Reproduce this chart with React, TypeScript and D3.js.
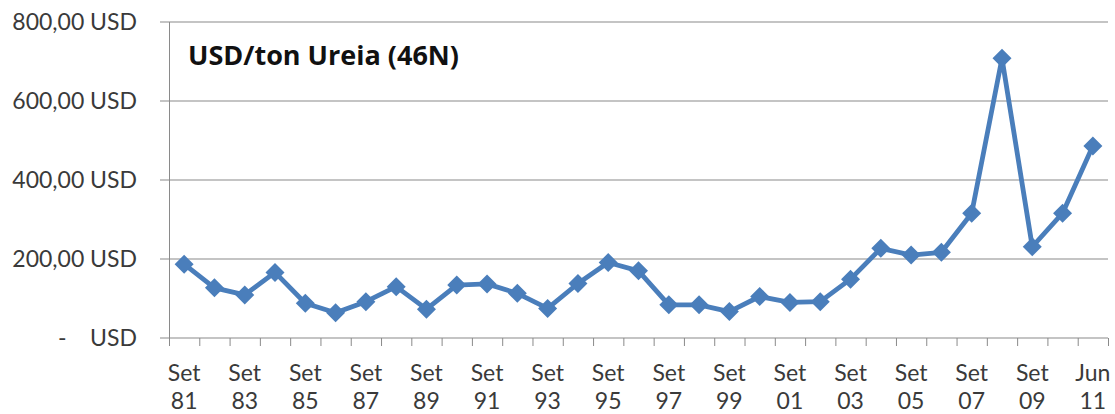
import { useEffect, useRef } from "react"
import * as d3 from "d3"

// categorias (mês/ano) e preço da ureia em USD/ton
const categories = [
  "Set 81", "Set 82", "Set 83", "Set 84", "Set 85", "Set 86", "Set 87", "Set 88",
  "Set 89", "Set 90", "Set 91", "Set 92", "Set 93", "Set 94", "Set 95", "Set 96",
  "Set 97", "Set 98", "Set 99", "Set 00", "Set 01", "Set 02", "Set 03", "Set 04",
  "Set 05", "Set 06", "Set 07", "Set 08", "Set 09", "Set 10", "Jun 11",
]
const prices = [
  187, 127, 109, 166, 88, 64, 92, 130, 73, 134, 137, 113, 75, 138, 191, 170,
  84, 84, 67, 105, 90, 92, 149, 227, 210, 217, 316, 708, 231, 316, 486,
]
const yTicks = [0, 200, 400, 600, 800]
const yTickLabels = ["-    USD", "200,00 USD", "400,00 USD", "600,00 USD", "800,00 USD"]
const title = "USD/ton Ureia (46N)"

export default function App() {
  const svgRef = useRef<SVGSVGElement>(null)

  useEffect(() => {
    document.body.style.margin = "0"
    if (!svgRef.current) return
    const svg = d3.select(svgRef.current)
    svg.selectAll("*").remove()

    const font = "Lato, 'Open Sans', sans-serif"
    const blue = "#4a7ebb"

    const x = d3.scaleBand<string>().domain(categories).range([169, 1108]).padding(0)
    const y = d3.scaleLinear().domain([0, 800]).range([338, 22])

    // grade horizontal
    svg.append("g")
      .selectAll("line")
      .data(yTicks)
      .enter().append("line")
      .attr("x1", 160).attr("x2", 1108)
      .attr("y1", d => y(d)).attr("y2", d => y(d))
      .attr("stroke", "#c4c4c4")
      .attr("stroke-width", 1.8)

    // eixo vertical
    svg.append("line")
      .attr("x1", 169.5).attr("x2", 169.5)
      .attr("y1", y(800)).attr("y2", 346)
      .attr("stroke", "#8a8a8a")
      .attr("stroke-width", 1)

    // marcas do eixo X nas divisões das categorias
    const bounds = d3.range(categories.length + 1).map(i => 169 + i * x.step())
    svg.append("g")
      .selectAll("line")
      .data(bounds.slice(1))
      .enter().append("line")
      .attr("x1", d => d + 0.5).attr("x2", d => d + 0.5)
      .attr("y1", y(0)).attr("y2", 346)
      .attr("stroke", "#8a8a8a")
      .attr("stroke-width", 1)

    // rótulos do eixo Y
    svg.append("g")
      .selectAll("text")
      .data(yTicks)
      .enter().append("text")
      .attr("x", 137)
      .attr("y", d => y(d))
      .attr("dy", "0.35em")
      .attr("text-anchor", "end")
      .style("white-space", "pre")
      .attr("font-family", font)
      .attr("font-size", 23)
      .attr("fill", "#3a3a3a")
      .text((_, i) => yTickLabels[i])

    // rótulos do eixo X (um a cada dois)
    const xl = svg.append("g")
      .selectAll("text")
      .data(categories.filter((_, i) => i % 2 === 0))
      .enter().append("text")
      .attr("text-anchor", "middle")
      .attr("font-family", font)
      .attr("font-size", 23)
      .attr("fill", "#3a3a3a")
    xl.append("tspan")
      .attr("x", d => (x(d) as number) + x.bandwidth() / 2)
      .attr("y", 381)
      .text(d => d.split(" ")[0])
    xl.append("tspan")
      .attr("x", d => (x(d) as number) + x.bandwidth() / 2)
      .attr("y", 409)
      .text(d => d.split(" ")[1])

    // título
    svg.append("text")
      .attr("x", 188)
      .attr("y", 65)
      .attr("font-family", "'Open Sans', sans-serif")
      .attr("font-size", 27)
      .attr("font-weight", "bold")
      .attr("fill", "#111")
      .text(title)

    const cx = (i: number) => (x(categories[i]) as number) + x.bandwidth() / 2

    // linha
    const line = d3.line<number>()
      .x((_, i) => cx(i))
      .y(d => y(d))

    svg.append("path")
      .datum(prices)
      .attr("fill", "none")
      .attr("stroke", blue)
      .attr("stroke-width", 4.8)
      .attr("stroke-linejoin", "round")
      .attr("d", line)

    // marcadores losango
    const r = 9.5
    svg.append("g")
      .selectAll("path")
      .data(prices)
      .enter().append("path")
      .attr("d", (d, i) => {
        const px = cx(i), py = y(d)
        return `M${px},${py - r}L${px + r},${py}L${px},${py + r}L${px - r},${py}Z`
      })
      .attr("fill", blue)
  }, [])

  return <svg ref={svgRef} width={1115} height={414} style={{ display: "block", background: "#fff" }}></svg>
}
